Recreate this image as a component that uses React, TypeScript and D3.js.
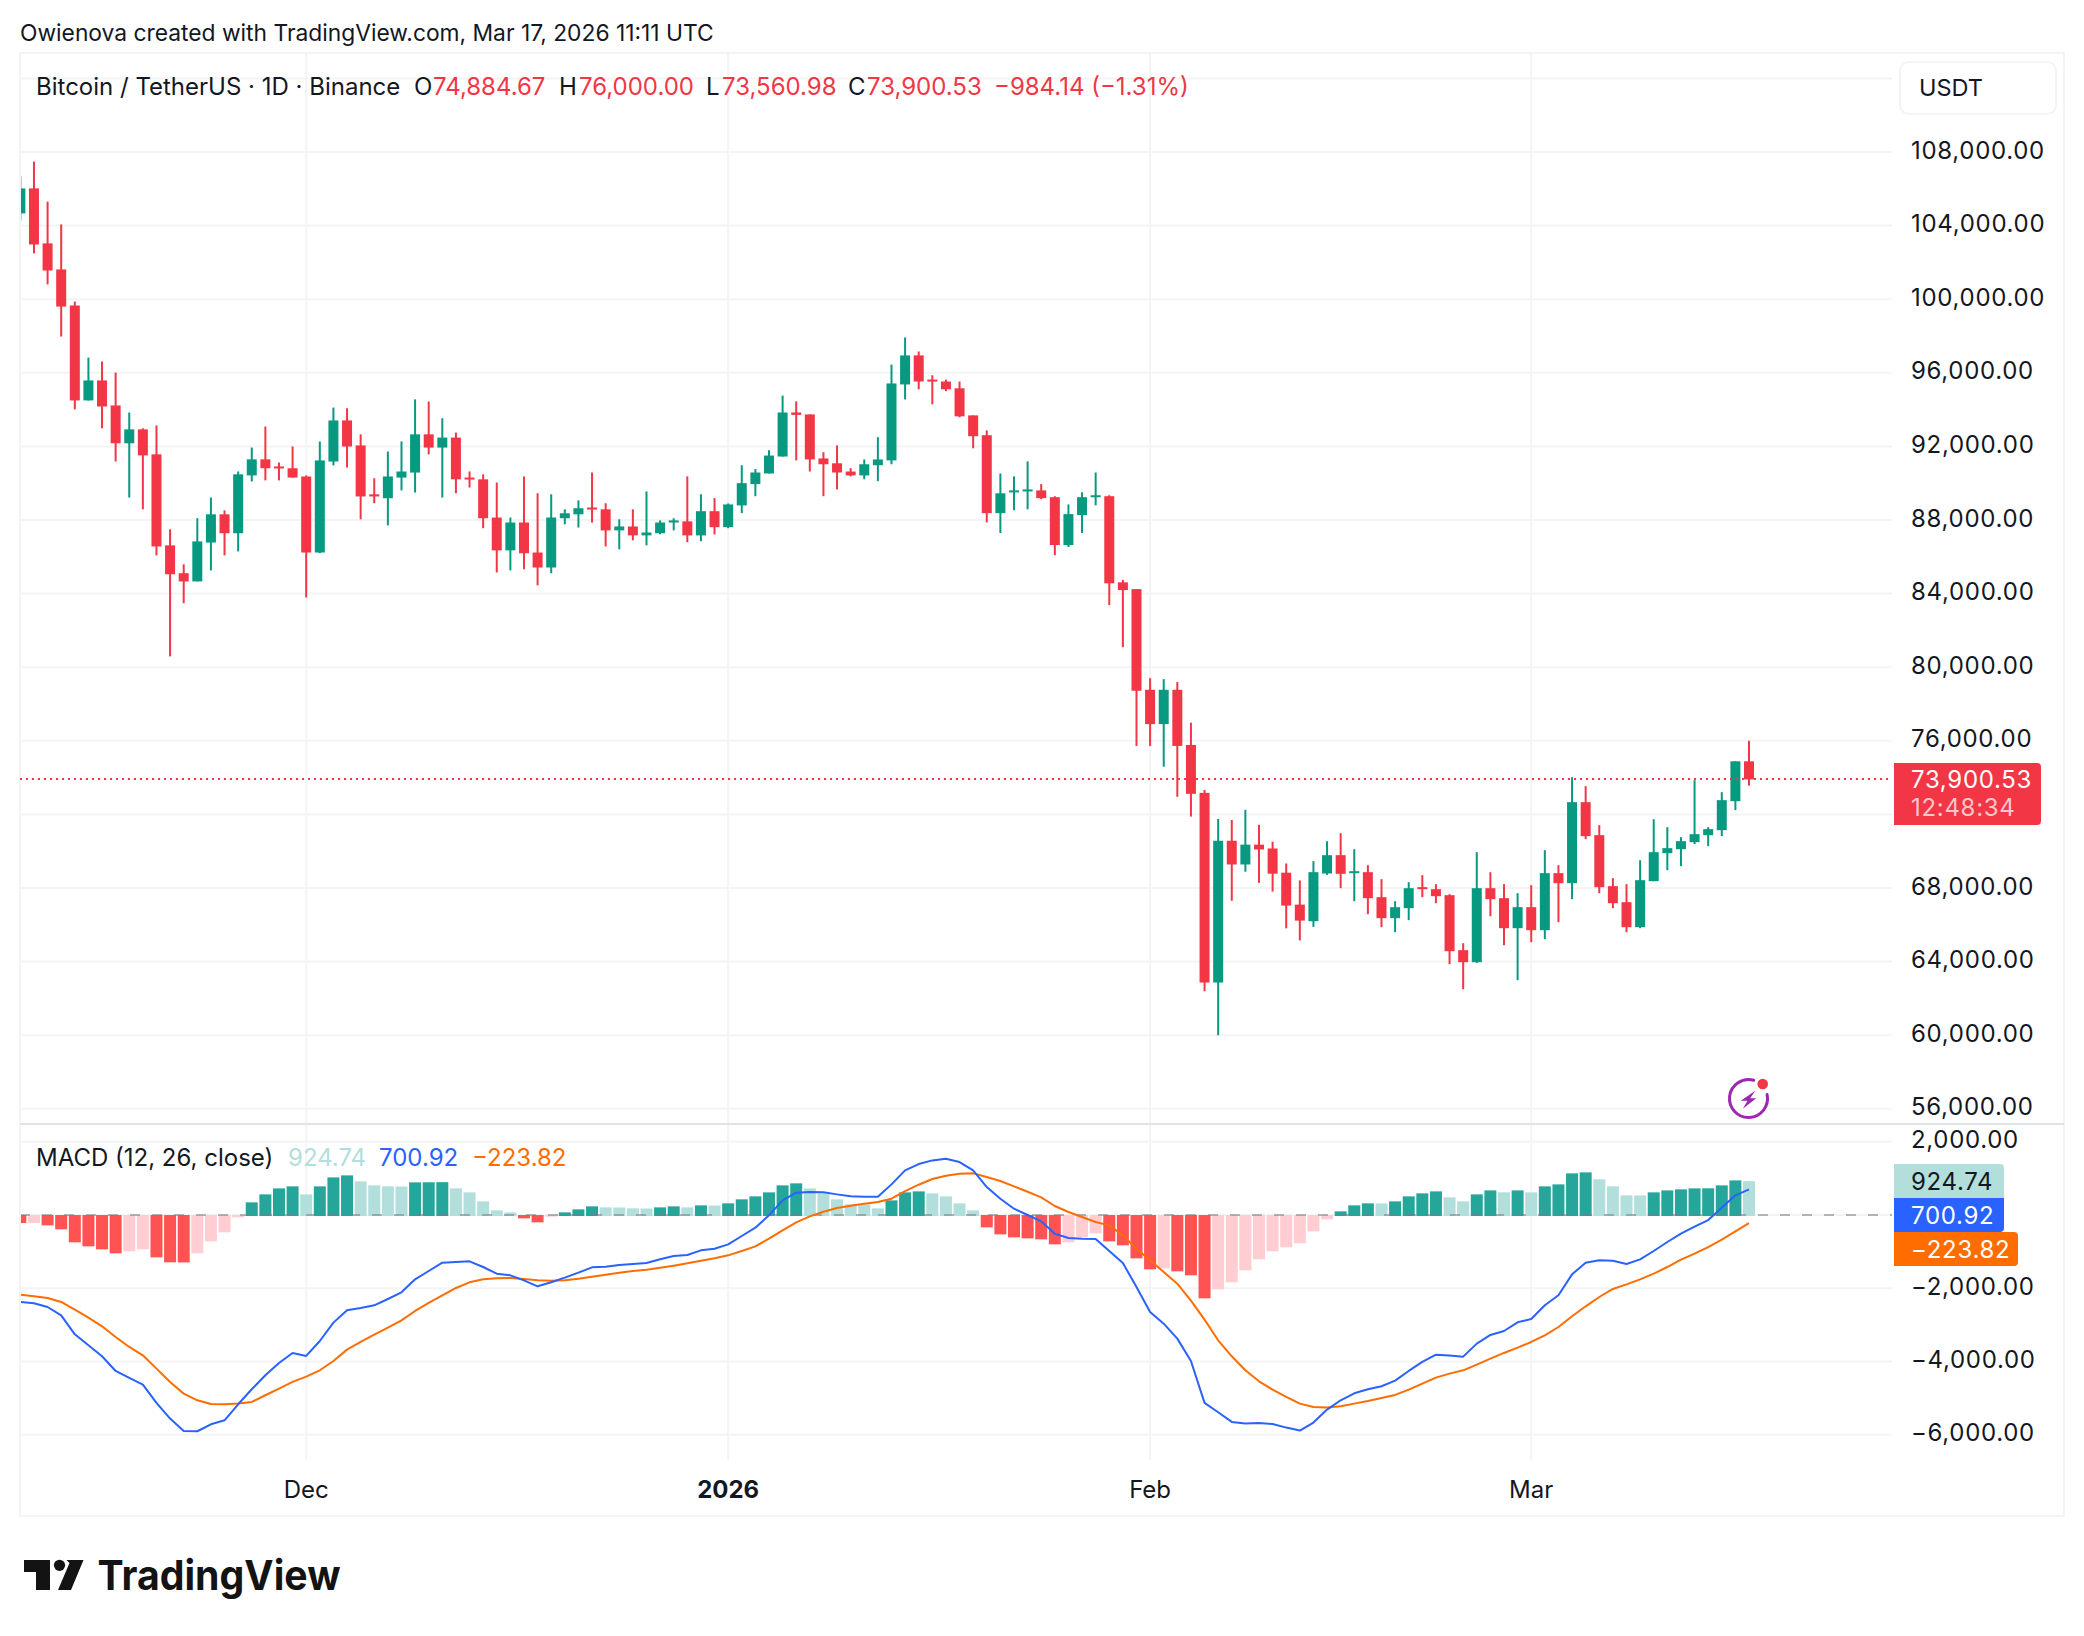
import React from "react";
import * as d3 from "d3";

// ---- data: one entry per trading day, Nov 10 2025 … Mar 17 2026 ----
const firstDay = -21; // days relative to Dec 1 2025

const opens = [104663,106021,103034,101617,99658,94498,95584,94226,92170,92926,91568,86621,85108,84662,86776,88309,87281,90424,91297,90909,90812,
90365,86233,91180,93411,92053,89395,89182,90307,90579,92655,91937,92480,90307,90210,88134,86350,87863,86233,85418,88096,88309,88678,88581,87436,87649,87164,87281,87863,
87926,87163,88478,87610,88793,89951,90529,91450,93843,93738,91345,91082,90634,90424,90976,91239,95368,96946,95631,95526,95158,93685,92607,88373,89504,89556,89609,89240,86637,88267,89240,89293,84612,84244,78773,76906,78773,75775,73171,62862,70568,69279,70357,70147,68832,67096,
66196,68788,69784,68824,68860,67501,66360,66903,68045,67936,67610,64620,63968,67990,67447,65816,66958,65707,68806,68262,72665,70871,68099,67229,65870,68371,69893,70110,70491,70871,71143,72720,74884.67];
const highs = [106681,107476,105303,104062,99871,96826,96612,96011,93838,92984,93140,87494,85593,88096,89221,88522,90637,91937,93081,91122,91995,
90424,92267,94110,94071,92655,90268,91723,92267,94556,94439,93528,92752,90637,90482,90036,88134,90365,89454,89395,88581,89066,90579,88910,88037,88581,89551,87979,88096,
90371,89398,89188,88899,90976,90766,91792,94764,94448,93738,91686,92055,90819,91292,92502,96447,97920,97157,95868,95631,95526,93685,92870,90529,90371,91187,89951,89293,88846,89504,90582,89346,84743,84244,79404,79352,79194,76985,73329,71751,71698,72251,71435,70515,69331,68411,
69458,70545,70980,70110,69240,68480,67284,68317,68697,68208,67664,65000,69947,68860,68208,67719,68153,70056,69240,74024,73535,71415,68534,68208,69512,71741,71306,70763,73861,71306,73209,74894,76000];
const lows = [104275,102490,100803,97970,94013,94498,92984,91180,89221,88581,86078,80588,83478,84662,85263,86078,86291,90094,90152,90152,90307,
83789,86194,90967,90850,88037,88910,87708,89609,89492,91568,89221,89454,89764,87552,85147,85263,85321,84448,85108,87766,87591,87863,86563,86408,86893,86621,87223,87436,
86795,86847,87215,87557,88373,89293,90529,91450,91239,90634,89293,89661,90371,90214,90108,91029,94553,95105,94290,95000,93580,91897,87873,87294,88530,88583,89135,86085,86532,87294,88793,83376,81088,75722,75722,74591,72961,71883,62388,60000,67306,68884,68279,67806,65807,65150,
65888,68715,67990,67284,66577,65870,65598,66251,67501,67175,63859,62500,63931,66468,64892,62989,65055,65218,66142,67392,70654,67719,66903,65598,65816,68371,68969,69186,70382,70273,70817,72230,73560.98];
const closes = [106021,102975,101559,99600,94498,95584,94168,92170,92926,91510,86563,85050,84662,86835,88309,87281,90482,91297,90812,90812,90307,
86233,91238,93411,91995,89279,89279,90365,90637,92655,91937,92480,90210,90210,88096,86350,87863,86194,85418,88134,88367,88639,88581,87436,87649,87164,87320,87863,87979,
87163,88478,87610,88846,90003,90582,91502,93843,93712,91292,91029,90582,90424,91029,91292,95421,96946,95526,95526,95105,93633,92554,88373,89451,89609,89661,89188,86637,88320,89240,89346,84559,84191,78720,76906,78773,75722,73119,62862,70568,69279,70357,70094,68779,67044,66228,
68860,69784,68770,68914,67447,66360,66958,67990,67954,67555,64566,63968,67990,67392,65816,66958,65707,68806,68262,72665,70817,68045,67175,65870,68425,69947,70165,70545,70926,71198,72774,74884.67,73900.53];

const histogram = [-218,-216,-282,-391,-746,-855,-937,-1046,-992,-937,-1156,-1292,-1295,-1046,-719,-473,-64,346,564,728,783,
564,783,1028,1083,919,810,783,780,892,895,898,728,619,373,127,73,-91,-200,-45,73,155,237,209,205,182,178,209,237,209,264,260,319,428,510,619,810,865,728,592,428,291,288,182,400,619,646,592,510,319,127,-337,-528,
-610,-637,-664,-801,-746,-610,-500,-719,-828,-1183,-1483,-1456,-1538,-1647,-2275,-2029,-1838,-1511,-1210,-992,-883,-774,-446,-118,100,264,319,316,373,510,592,646,482,373,564,673,619,673,619,783,837,1138,1165,974,783,537,535,619,673,701,728,730,810,946,924.74];

const macdLine = [-2375,-2412,-2512,-2739,-3258,-3558,-3858,-4259,-4450,-4632,-5132,-5560,-5897,-5906,-5715,-5606,-5169,-4759,-4377,-4040,-3767,
-3849,-3440,-2939,-2603,-2539,-2466,-2293,-2111,-1756,-1529,-1301,-1283,-1265,-1420,-1602,-1647,-1784,-1947,-1838,-1711,-1574,-1429,-1410,-1365,-1338,-1310,-1210,-1119,-1092,-965,-919,-801,-573,-346,-9,400,610,628,619,564,510,500,500,837,1219,1392,1492,1538,1447,1219,764,446,173,0,-173,-510,-628,-646,-655,-983,-1310,-1966,-2648,-2967,-3376,-3986,-5132,-5387,-5651,-5697,-5678,-5706,-5806,-5888,-5669,-5314,-5060,-4869,-4759,-4677,-4523,-4259,-4013,-3813,-3840,-3868,-3513,-3276,-3167,-2930,-2839,-2466,-2193,-1620,-1301,-1238,-1247,-1338,-1210,-983,-737,-510,-319,-137,200,537,700.92];

const signalLine = [-2175,-2220,-2266,-2375,-2584,-2803,-3039,-3331,-3604,-3831,-4195,-4559,-4878,-5060,-5160,-5169,-5151,-5105,-4923,-4741,-4559,
-4414,-4241,-3986,-3676,-3467,-3267,-3076,-2876,-2621,-2402,-2193,-1993,-1838,-1756,-1729,-1720,-1747,-1784,-1793,-1784,-1738,-1684,-1629,-1574,-1529,-1492,-1438,-1383,-1320,-1247,-1183,-1101,-983,-855,-646,-419,-200,-36,91,191,255,309,355,446,655,828,983,1074,1128,1138,1037,928,783,637,482,246,82,-55,-191,-282,-555,-919,-1238,-1556,-1875,-2339,-2857,-3422,-3858,-4241,-4541,-4768,-4969,-5151,-5242,-5260,-5223,-5151,-5078,-4996,-4914,-4768,-4605,-4441,-4332,-4241,-4086,-3922,-3767,-3622,-3467,-3285,-3058,-2766,-2493,-2239,-2020,-1893,-1756,-1602,-1420,-1219,-1056,-874,-673,-446,-223.82];

const priceTicks = [108000,104000,100000,96000,92000,88000,84000,80000,76000,68000,64000,60000,56000];
const priceGridOnly = [112000,72000];
const macdTicks = [2000,-2000,-4000,-6000];
const timeTicks = [{ day: 0, label: "Dec" }, { day: 31, label: "2026", bold: true }, { day: 62, label: "Feb" }, { day: 90, label: "Mar" }];

const lastClose = 73900.53;
const countdown = "12:48:34";
const headerText = "Owienova created with TradingView.com, Mar 17, 2026 11:11 UTC";
const symbolText = "Bitcoin / TetherUS · 1D · Binance";
const ohlcItems = [
  { key: "O", value: "74,884.67", kx: 414, vx: 433 },
  { key: "H", value: "76,000.00", kx: 559, vx: 579 },
  { key: "L", value: "73,560.98", kx: 706, vx: 722 },
  { key: "C", value: "73,900.53", kx: 848, vx: 867 },
];
const changeText = "−984.14 (−1.31%)";

// ---- geometry ----
const FONT = "Inter, 'Noto Sans', sans-serif";
const L = 20, R = 1892, TOP = 53, SEP = 1124, PANE_BOTTOM = 1460, FRAME_R = 2064, FRAME_B = 1516;
const GRID = "#f3f4f6", TEXT = "#131722", UP = "#089981", DOWN = "#f23645";
const LEGEND_SIZE = 24, AXIS_SIZE = 24, AXIS_SPACING = 0.7;

const x = d3.scaleLinear().domain([0, 106]).range([306.2, 1749]);
const y = d3.scaleLinear().domain([108000, 56000]).range([152, 1108.8]);
const ym = d3.scaleLinear().domain([2000, -6000]).range([1141.8, 1434.7]);
const fmt = d3.format(",.2f");

const dayAt = (i: number) => firstDay + i;
const lineGen = d3.line<number>().x((_, i) => x(dayAt(i))).y((v) => ym(v)).curve(d3.curveLinear);

function histColor(i: number) {
  const v = histogram[i];
  const rising = i > 0 ? v >= histogram[i - 1] : false;
  if (v >= 0) return rising ? "#26a69a" : "#b2dfdb";
  return rising ? "#ffcdd2" : "#ff5252";
}

function BoltIcon() {
  const cx = 1748.5, cy = 1098.5, r = 19;
  const p = d3.path();
  p.arc(cx, cy, r, (-90 + 78) * Math.PI / 180, (270 + 16) * Math.PI / 180);
  const bolt = [[6.7,-7.7],[-7.7,2.3],[-1,2.3],[-5.7,10.3],[7.7,-0.3],[1.7,-0.3]];
  return (
    <g>
      <circle cx={cx} cy={cy} r={r} fill="#fff" />
      <path d={p.toString()} fill="none" stroke="#9c27b0" strokeWidth={3} strokeLinecap="round" />
      <polygon points={bolt.map(([a, b]) => `${cx + a},${cy + b}`).join(" ")} fill="#9c27b0" />
      <circle cx={1762.7} cy={1084} r={5.3} fill={DOWN} />
    </g>
  );
}

function AxisText(props: { x: number; y: number; fill: string; opacity?: number; children: React.ReactNode }) {
  return (
    <text x={props.x} y={props.y} fontSize={AXIS_SIZE} letterSpacing={AXIS_SPACING} fill={props.fill}
      fillOpacity={props.opacity ?? 1} dominantBaseline="central">{props.children}</text>
  );
}

export default function App() {
  return (
    <svg width={2084} height={1636} viewBox="0 0 2084 1636"
      style={{ position: "absolute", left: 0, top: 0, background: "#fff", fontFamily: FONT }}>
      <defs>
        <clipPath id="pricePane"><rect x={L + 1} y={TOP} width={R - L - 1} height={SEP - TOP} /></clipPath>
        <clipPath id="macdPane"><rect x={L + 1} y={SEP} width={R - L - 1} height={PANE_BOTTOM - SEP} /></clipPath>
      </defs>

      <text x={20} y={32} fontSize={22.8} fill={TEXT} dominantBaseline="central">{headerText}</text>

      {/* frame */}
      <rect x={L} y={TOP} width={FRAME_R - L} height={FRAME_B - TOP} fill="none" stroke={GRID} strokeWidth={2} />

      {/* grid */}
      {timeTicks.map((t) => (
        <line key={t.label} x1={x(t.day)} x2={x(t.day)} y1={TOP} y2={PANE_BOTTOM} stroke={GRID} strokeWidth={2} />
      ))}
      {[...priceTicks, ...priceGridOnly].map((p) => (
        <line key={p} x1={L} x2={R} y1={y(p)} y2={y(p)} stroke={GRID} strokeWidth={2} />
      ))}
      {macdTicks.map((v) => (
        <line key={v} x1={L} x2={R} y1={ym(v)} y2={ym(v)} stroke={GRID} strokeWidth={2} />
      ))}
      <line x1={L} x2={R} y1={ym(0)} y2={ym(0)} stroke={GRID} strokeWidth={2} />

      {/* candles */}
      <g clipPath="url(#pricePane)">
        {opens.map((o, i) => {
          const c = closes[i];
          const cx = x(dayAt(i));
          const col = c >= o ? UP : DOWN;
          const top = y(Math.max(o, c));
          const bottom = y(Math.min(o, c));
          return (
            <g key={i} fill={col}>
              <rect x={cx - 1} y={y(highs[i])} width={2} height={Math.max(1, y(lows[i]) - y(highs[i]))} />
              <rect x={cx - 5} y={top} width={10} height={Math.max(2, bottom - top)} />
            </g>
          );
        })}
      </g>

      <line x1={L} x2={R} y1={Math.round(y(lastClose))} y2={Math.round(y(lastClose))} stroke={DOWN} strokeWidth={2} strokeDasharray="2 4" />
      <BoltIcon />

      {/* pane separator */}
      <line x1={L} x2={FRAME_R} y1={SEP} y2={SEP} stroke="#e0e3eb" strokeWidth={2} />

      {/* MACD */}
      <g clipPath="url(#macdPane)">
        {histogram.map((v, i) => {
          const cx = x(dayAt(i));
          const a = ym(Math.max(v, 0));
          const b = ym(Math.min(v, 0));
          return <rect key={i} x={cx - 6} y={a} width={12} height={b - a + (v > 0 ? 1 : 0)} fill={histColor(i)} />;
        })}
        <line x1={L} x2={R} y1={ym(0)} y2={ym(0)} stroke="#787b86" strokeOpacity={0.55} strokeWidth={2} strokeDasharray="10 12" />
        <path d={lineGen(signalLine) ?? ""} fill="none" stroke="#ff6d00" strokeWidth={2} strokeLinejoin="round" />
        <path d={lineGen(macdLine) ?? ""} fill="none" stroke="#2962ff" strokeWidth={2} strokeLinejoin="round" />
      </g>

      {/* legends */}
      <text x={36} y={86} fontSize={LEGEND_SIZE} fill={TEXT} dominantBaseline="central">{symbolText}</text>
      {ohlcItems.map((it) => (
        <g key={it.key} fontSize={LEGEND_SIZE}>
          <text x={it.kx} y={86} fill={TEXT} dominantBaseline="central">{it.key}</text>
          <text x={it.vx} y={86} fill={DOWN} dominantBaseline="central">{it.value}</text>
        </g>
      ))}
      <text x={994} y={86} fontSize={LEGEND_SIZE} fill={DOWN} dominantBaseline="central">{changeText}</text>

      <text x={36} y={1157} fontSize={LEGEND_SIZE} fill={TEXT} dominantBaseline="central">MACD (12, 26, close)</text>
      <text x={288} y={1157} fontSize={LEGEND_SIZE} fill="#b2dfdb" dominantBaseline="central">{fmt(histogram[histogram.length - 1])}</text>
      <text x={379} y={1157} fontSize={LEGEND_SIZE} fill="#2962ff" dominantBaseline="central">{fmt(macdLine[macdLine.length - 1])}</text>
      <text x={472} y={1157} fontSize={LEGEND_SIZE} fill="#ff6d00" dominantBaseline="central">{fmt(signalLine[signalLine.length - 1])}</text>

      {/* price axis */}
      <rect x={1900} y={62} width={156} height={52} rx={9} fill="#fff" stroke={GRID} strokeWidth={2} />
      <text x={1919} y={87} fontSize={23.5} fill={TEXT} dominantBaseline="central">USDT</text>
      {priceTicks.map((p) => (
        <AxisText key={p} x={1911} y={y(p) - 2} fill={TEXT}>{fmt(p)}</AxisText>
      ))}
      {macdTicks.map((v) => (
        <AxisText key={v} x={1911} y={ym(v) - 2} fill={TEXT}>{fmt(v)}</AxisText>
      ))}

      {/* last price tag */}
      <path d="M1894 763H2037a4 4 0 0 1 4 4V821a4 4 0 0 1 -4 4H1894Z" fill={DOWN} />
      <AxisText x={1911} y={779} fill="#fff">{fmt(lastClose)}</AxisText>
      <AxisText x={1911} y={807} fill="#fff" opacity={0.72}>{countdown}</AxisText>

      {/* MACD value tags */}
      <path d="M1894 1164H2000a4 4 0 0 1 4 4V1198H1894Z" fill="#b2dfdb" />
      <AxisText x={1911} y={1181} fill={TEXT}>{fmt(histogram[histogram.length - 1])}</AxisText>
      <path d="M1894 1198H2004V1228a4 4 0 0 1 -4 4H1894Z" fill="#2962ff" />
      <AxisText x={1911} y={1215} fill="#fff">{fmt(macdLine[macdLine.length - 1])}</AxisText>
      <path d="M1894 1232H2014a4 4 0 0 1 4 4V1262a4 4 0 0 1 -4 4H1894Z" fill="#ff6d00" />
      <AxisText x={1911} y={1249} fill="#fff">{fmt(signalLine[signalLine.length - 1])}</AxisText>

      {/* time axis */}
      {timeTicks.map((t) => (
        <text key={t.label} x={x(t.day)} y={1489} fontSize={24} fontWeight={t.bold ? 700 : 400} fill={TEXT}
          textAnchor="middle" dominantBaseline="central">{t.label}</text>
      ))}

      {/* logo */}
      <g fill="#131313">
        <polygon points="24,1560 50,1560 50,1590 36,1590 36,1572 24,1572" />
        <circle cx={59.5} cy={1565.3} r={5.6} />
        <polygon points="66.5,1560 83.5,1560 71,1590 58,1590 69.5,1563" />
        <text x={97.5} y={1590} fontSize={41} fontWeight={650} textLength={243} lengthAdjust="spacingAndGlyphs">TradingView</text>
      </g>
    </svg>
  );
}
